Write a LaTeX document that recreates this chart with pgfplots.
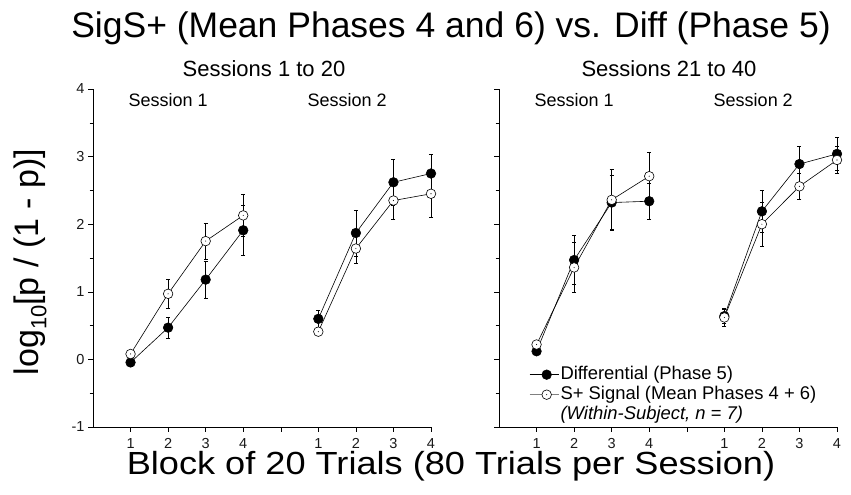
\documentclass[border=0pt]{standalone}
\usepackage{pgfplots}
\pgfplotsset{compat=1.18}
\usepackage{fontspec}
\setmainfont{Liberation Sans}
\pgfdeclareplotmark{odot}{%
  \pgfpathcircle{\pgfpointorigin}{\pgfplotmarksize}\pgfusepathqfillstroke
  \begin{pgfscope}\pgfsetfillcolor{black}\pgfpathcircle{\pgfpointorigin}{0.55pt}\pgfusepathqfill\end{pgfscope}}
\begin{document}
\begin{tikzpicture}[x=1pt,y=1pt]
\useasboundingbox (0,0) rectangle (851,495);
\pgfplotsset{
  panel/.style={
    at={(#1,68pt)}, anchor=south west,
    scale only axis, width=338pt, height=338pt,
    xmin=0, xmax=9, ymin=-1, ymax=4,
    axis x line*=bottom, axis y line*=left,
    xtick={1,2,3,4,5,6,7,8,9},
    xticklabels={1,2,3,4,,1,2,3,4},
    ytick={-1,0,1,2,3,4},
    minor y tick num=1,
    tick align=outside,
    major tick length=5pt, minor tick length=3.5pt,
    tick style={black, line width=0.5pt},
    axis line style={black, line width=0.6pt},
    tick label style={font=\fontsize{14.5}{16}\selectfont, text=black!90},
    xticklabel style={font=\fontsize{14.5}{16}\selectfont, yshift=-2.5pt},
    yticklabel style={font=\fontsize{14.5}{16}\selectfont},
    /pgf/number format/assume math mode=true,
    clip=false,
  },
  fillser/.style={black, line width=0.6pt, mark=*, mark size=4.8pt,
    mark options={fill=black, line width=0.6pt},
    error bars/.cd, y dir=both, y explicit,
    error bar style={black, line width=0.5pt},
    error mark options={rotate=90, mark size=2pt, black, line width=0.5pt}},
  openser/.style={black, line width=0.6pt, mark=odot, mark size=4.8pt,
    mark options={fill=white, line width=0.6pt},
    error bars/.cd, y dir=both, y explicit,
    error bar style={black, line width=0.5pt},
    error mark options={rotate=90, mark size=2pt, black, line width=0.5pt}},
}
% Left panel
\begin{axis}[panel=93pt, yticklabels={-1,0,1,2,3,4}]
\addplot[fillser] table[x=x,y=y,y error=e] {
x y e
1 -0.045 0.05
2 0.47 0.16
3 1.18 0.27
4 1.91 0.37
};
\addplot[openser] table[x=x,y=y,y error=e] {
x y e
1 0.08 0.05
2 0.97 0.21
3 1.75 0.27
4 2.13 0.31
};
\addplot[fillser] table[x=x,y=y,y error=e] {
x y e
6 0.60 0.13
7 1.87 0.34
8 2.62 0.34
9 2.75 0.29
};
\addplot[openser] table[x=x,y=y,y error=e] {
x y e
6 0.41 0.05
7 1.64 0.22
8 2.35 0.27
9 2.45 0.35
};
\node[font=\fontsize{18}{20}\selectfont, anchor=base] at (axis cs:2,3.74) {Session 1};
\node[font=\fontsize{18}{20}\selectfont, anchor=base] at (axis cs:6.77,3.74) {Session 2};
\end{axis}
% Right panel
\begin{axis}[panel=499pt, yticklabels={},
  legend style={at={(rel axis cs:0.089,0.185)}, anchor=north west,
    draw=none, fill=none, inner sep=0pt,
    font=\fontsize{18.4}{20}\selectfont, cells={anchor=west},
    nodes={inner sep=1.5pt, text height=13pt, text depth=4pt},
    row sep=0pt},
  legend image code/.code={\draw[mark repeat=2,mark phase=2] plot coordinates {(0pt,0pt)(17pt,0pt)(29pt,0pt)};},
]
\addplot[fillser] table[x=x,y=y,y error=e] {
x y e
1 0.12 0.05
2 1.47 0.36
3 2.32 0.40
4 2.34 0.26
};
\addlegendentry{Differential (Phase 5)}
\addplot[legend image code/.code={%
    \draw[black!50, line width=0.8pt] (0pt,0pt) -- (29pt,0pt);
    \draw[black, line width=0.6pt, mark=odot, mark size=4.8pt, mark options={fill=white}] plot coordinates {(17pt,0pt)};},
  openser] table[x=x,y=y,y error=e] {
x y e
1 0.22 0.05
2 1.36 0.37
3 2.36 0.45
4 2.71 0.35
};
\addlegendentry{S+ Signal (Mean Phases 4 + 6)}
\addplot[forget plot, fillser] table[x=x,y=y,y error=e] {
x y e
6 0.64 0.10
7 2.19 0.31
8 2.89 0.27
9 3.04 0.24
};
\addplot[forget plot, openser] table[x=x,y=y,y error=e] {
x y e
6 0.62 0.13
7 2.00 0.32
8 2.56 0.19
9 2.95 0.20
};
\addlegendimage{empty legend}
\addlegendentry{\itshape (Within-Subject, n = 7)}
\node[font=\fontsize{18}{20}\selectfont, anchor=base] at (axis cs:2,3.74) {Session 1};
\node[font=\fontsize{18}{20}\selectfont, anchor=base] at (axis cs:6.77,3.74) {Session 2};
\end{axis}
% Titles and labels
\node[font=\fontsize{35.5}{40}\selectfont, anchor=base] at (451,457) {SigS+ (Mean Phases 4 and 6) vs. Diff (Phase 5)};
\node[font=\fontsize{22}{24}\selectfont, anchor=base] at (264,418) {Sessions 1 to 20};
\node[font=\fontsize{22}{24}\selectfont, anchor=base] at (669,418) {Sessions 21 to 40};
\node[font=\fontsize{32}{36}\selectfont, anchor=base, xscale=1.13] at (451,20) {Block of 20 Trials (80 Trials per Session)};
\node[font=\fontsize{34}{38}\selectfont, rotate=90] at (30,233) {log\raisebox{-0.45ex}{\fontsize{22}{24}\selectfont 10}[p / (1 - p)]};
\end{tikzpicture}
\end{document}
